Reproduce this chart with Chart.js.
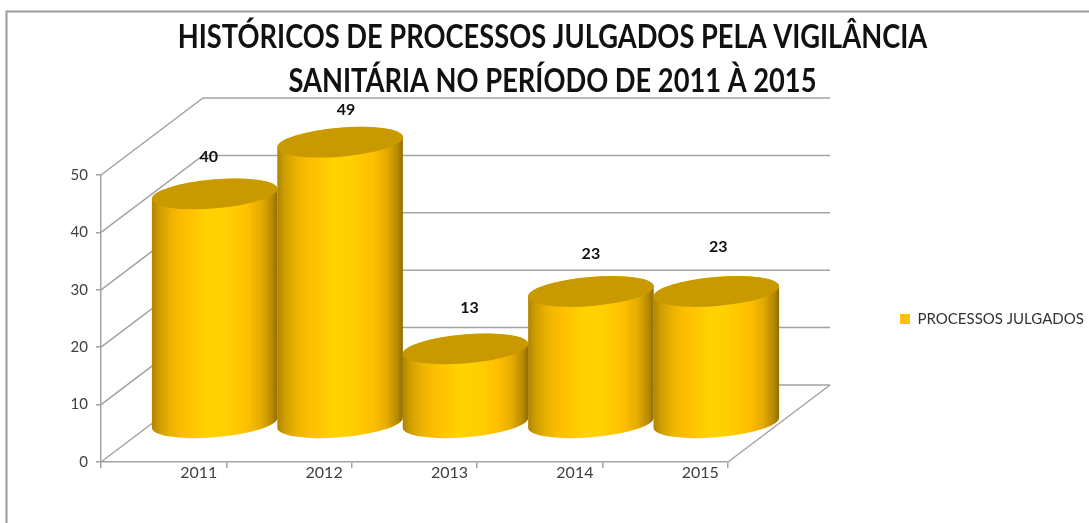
<!DOCTYPE html>
<html lang="pt-BR">
<head>
<meta charset="utf-8">
<title>Processos julgados 2011-2015</title>
<style>
  html, body { margin: 0; padding: 0; background: #fff; }
  canvas { display: block; }
</style>
<script src="https://cdn.jsdelivr.net/npm/chart.js@4/dist/chart.umd.js"></script>
</head>
<body>
<canvas id="chart" width="1089" height="523"></canvas>
<script>
const years = ['2011', '2012', '2013', '2014', '2015'];
const julgados = [40, 49, 13, 23, 23];
const seriesName = 'PROCESSOS JULGADOS';
const titleLines = ['HISTÓRICOS DE PROCESSOS JULGADOS PELA VIGILÂNCIA', 'SANITÁRIA NO PERÍODO DE 2011 À 2015'];
const valueTicks = [0, 10, 20, 30, 40, 50];

// Oblique projection of the chart box
const DEPTH_X = 102;
const DEPTH_Y = 77;
const RX = 63, RY = 14.5, TILT = -0.085;
const GRID = '#a3a3a3';
// Title is set condensed around its own centre
const TITLE_CENTER = 552.5;
const TITLE_SQUEEZE = 0.826;
// Hand-placed value labels: offsets from each cylinder's top centre
const labelNudgeX = [-6, 6, 4, 0, 2];
const labelNudgeY = [-37, -32, -41, -38, -45];

const box3d = {
  id: 'box3d',
  beforeLayout(chart) {
    const lg = chart.legend;
    if (lg && !lg._wide) {
      const fit = lg.fit;
      lg.fit = function () { fit.call(this); this.width = 361; };
      lg._wide = true;
    }
    const tb = chart.titleBlock;
    if (tb && !tb._condensed) {
      const draw = tb.draw;
      tb.draw = function () {
        const c = this.ctx;
        c.save();
        c.translate(TITLE_CENTER, 0);
        c.scale(TITLE_SQUEEZE, 1);
        c.translate(-(this.left + this.right) / 2, 0);
        draw.call(this);
        c.restore();
      };
      tb._condensed = true;
    }
  },
  afterLayout(chart) {
    const lg = chart.legend;
    lg.left = 900 - lg.options.labels.padding;
    lg.top = 319 - lg.height / 2;
    lg.bottom = lg.top + lg.height;
  },
  beforeDraw(chart) {
    const c = chart.ctx;
    c.save();
    c.strokeStyle = '#9a9a9a';
    c.lineWidth = 2;
    c.beginPath();
    c.moveTo(6.5, 523);
    c.lineTo(6.5, 11.5);
    c.lineTo(1089, 11.5);
    c.stroke();
    c.restore();
  },
  beforeDatasetsDraw(chart) {
    const { x, y } = chart.scales;
    const c = chart.ctx;
    c.save();
    c.strokeStyle = GRID;
    c.lineWidth = 1.5;
    c.beginPath();
    y.ticks.forEach(t => {
      const py = y.getPixelForValue(t.value);
      c.moveTo(x.left, py);
      c.lineTo(x.left + DEPTH_X, py - DEPTH_Y);
      c.lineTo(x.right + DEPTH_X, py - DEPTH_Y);
    });
    const floor = y.getPixelForValue(0);
    c.moveTo(x.right, floor);
    c.lineTo(x.right + DEPTH_X, floor - DEPTH_Y);
    c.stroke();
    c.restore();
  },
  // The bars are rendered as cylinders, from the geometry the bar controller computed
  beforeDatasetDraw() { return false; },
  afterDatasetsDraw(chart) {
    const c = chart.ctx;
    const meta = chart.getDatasetMeta(0);
    const t0 = Math.atan2(-RY * Math.sin(TILT), RX * Math.cos(TILT));
    meta.data.forEach((bar, i) => {
      const cx = bar.x + DEPTH_X / 2;
      const topY = bar.y - DEPTH_Y / 2;
      const baseY = bar.base - DEPTH_Y / 2;
      const halfW = bar.width / 2;

      const side = c.createLinearGradient(cx - halfW, 0, cx + halfW, 0);
      side.addColorStop(0, '#b08500');
      side.addColorStop(0.06, '#cf9e00');
      side.addColorStop(0.16, '#eeb400');
      side.addColorStop(0.27, '#ffbf00');
      side.addColorStop(0.45, '#ffd200');
      side.addColorStop(0.58, '#ffd000');
      side.addColorStop(0.76, '#ffc000');
      side.addColorStop(0.87, '#e5ac00');
      side.addColorStop(0.96, '#b58900');
      side.addColorStop(1, '#8f6c00');

      c.save();
      c.beginPath();
      c.ellipse(cx, baseY, RX, RY, TILT, t0, t0 + Math.PI);
      c.ellipse(cx, topY, RX, RY, TILT, t0 + Math.PI, t0, false);
      c.closePath();
      c.fillStyle = side;
      c.fill();

      c.beginPath();
      c.ellipse(cx, topY, RX, RY, TILT, 0, Math.PI * 2);
      c.fillStyle = '#c99900';
      c.fill();

      c.font = 'bold 16px Lato';
      c.fillStyle = '#111';
      c.textAlign = 'center';
      c.textBaseline = 'middle';
      c.fillText(String(julgados[i]), cx + labelNudgeX[i], topY + labelNudgeY[i]);
      c.restore();
    });
  }
};

new Chart(document.getElementById('chart'), {
  type: 'bar',
  data: {
    labels: years,
    datasets: [{
      label: seriesName,
      data: julgados,
      backgroundColor: '#ffc000',
      barPercentage: 1,
      categoryPercentage: 1
    }]
  },
  options: {
    responsive: false,
    animation: false,
    layout: { padding: 0 },
    plugins: {
      title: {
        display: true,
        text: titleLines,
        color: '#111',
        font: { family: 'Lato', size: 33, weight: 'bold', lineHeight: 1.333 },
        padding: { top: 15, bottom: 72 }
      },
      legend: {
        display: true,
        position: 'right',
        labels: {
          boxWidth: 10,
          boxHeight: 10,
          padding: 8,
          color: '#333',
          font: { family: 'Lato', size: 15 }
        }
      },
      tooltip: { enabled: false }
    },
    scales: {
      x: {
        afterFit(s) { s.height = 61; },
        border: { color: GRID, width: 1.5 },
        grid: { drawOnChartArea: false, color: GRID, lineWidth: 1.5, tickLength: 6 },
        ticks: { color: '#404040', labelOffset: 35, padding: -5, maxRotation: 0, font: { family: 'Lato', size: 16 } }
      },
      y: {
        min: 0,
        max: 50,
        afterFit(s) { s.width = 101; },
        afterBuildTicks(s) { s.ticks = valueTicks.map(value => ({ value })); },
        border: { color: GRID, width: 1.5 },
        grid: { drawOnChartArea: false, color: GRID, lineWidth: 1.5, tickLength: 5 },
        ticks: { color: '#404040', padding: 8, font: { family: 'Lato', size: 15 } }
      }
    }
  },
  plugins: [box3d]
});
</script>
</body>
</html>
